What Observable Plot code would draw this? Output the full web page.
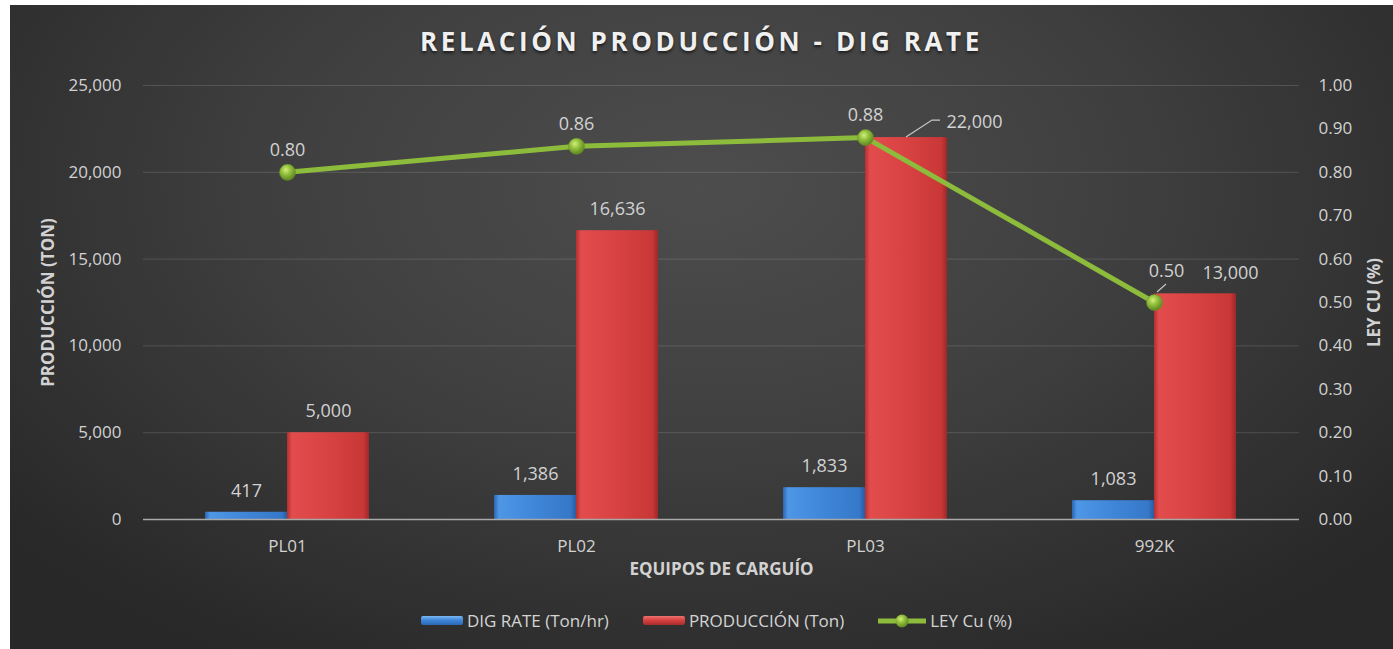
<!DOCTYPE html>
<html><head><meta charset="utf-8">
<script src="https://cdn.jsdelivr.net/npm/d3@7"></script>
<script src="https://cdn.jsdelivr.net/npm/@observablehq/plot@0.6"></script>
<style>
html,body{margin:0;padding:0;background:#fff;}
#chart{position:absolute;left:10px;top:5px;width:1383px;height:644px;overflow:hidden;
 background: radial-gradient(ellipse 65% 85% at 50% 28%, #4d4d4d 0%, #404040 45%, #282828 100%);
 font-family:"Open Sans",sans-serif;}
#title{position:absolute;left:0;top:18px;width:100%;text-align:center;font-weight:700;font-size:26px;letter-spacing:3.6px;color:#f0f0f0;line-height:36px;text-shadow:0 2px 3px rgba(0,0,0,.6);}
#plot{position:absolute;left:0;top:60px;}
#legend{position:absolute;left:30px;right:0;top:604px;display:flex;justify-content:center;align-items:center;gap:34px;color:#d4d4d4;font-size:17px;}
.item{display:flex;align-items:center;gap:4px;}
.sw{width:42px;height:9px;border-radius:2px;}
</style></head><body>
<div id="chart"><div id="title"></div><div id="plot"></div><div id="legend"></div></div>
<script>
// ---- data ----
const categories = ["PL01", "PL02", "PL03", "992K"];
const digRate = [417, 1386, 1833, 1083];
const produccion = [5000, 16636, 22000, 13000];
const leyCu = [0.80, 0.86, 0.88, 0.50];
const prodTicks = [0, 5000, 10000, 15000, 20000, 25000];
const leyTicks = [0.00, 0.10, 0.20, 0.30, 0.40, 0.50, 0.60, 0.70, 0.80, 0.90, 1.00];
const seriesNames = ["DIG RATE (Ton/hr)", "PRODUCCIÓN (Ton)", "LEY Cu (%)"];
const title = "RELACIÓN PRODUCCIÓN - DIG RATE";
const yLabel = "PRODUCCIÓN (TON)";
const y2Label = "LEY CU (%)";
const xLabel = "EQUIPOS DE CARGUÍO";

const Y_MAX = 25000, Y2_MAX = 1.0, K = Y_MAX / Y2_MAX;
const rows = categories.map((c, i) => ({cat: c, dig: digRate[i], prod: produccion[i], ley: leyCu[i]}));
const fmt = d3.format(",");
const TXT = "#d2d2d2";
const FONT = "Open Sans, sans-serif";
const TICK = 17, LBL = 18, AX = 17;

document.getElementById("title").textContent = title;

const plot = Plot.plot({
  width: 1383, height: 535,
  marginLeft: 133, marginRight: 94, marginTop: 20, marginBottom: 81,
  style: {background: "transparent", color: TXT, fontFamily: FONT, fontSize: "17px", overflow: "visible"},
  x: {type: "band", domain: categories, paddingInner: 0.716, paddingOuter: 0.358, axis: null},
  y: {domain: [0, Y_MAX], axis: null},
  marks: [
    Plot.ruleY(prodTicks.filter(d => d > 0), {stroke: "#ffffff", strokeOpacity: 0.14, strokeWidth: 1}),
    Plot.axisY(prodTicks, {anchor: "left", tickSize: 0, tickPadding: 22, tickFormat: fmt, label: null, fontSize: TICK, color: TXT}),
    Plot.axisY(leyTicks.map(t => t * K), {anchor: "right", tickSize: 0, tickPadding: 19, tickFormat: d => (d / K).toFixed(2), label: null, fontSize: TICK, color: TXT}),
    Plot.axisX({tickSize: 0, tickPadding: 20, label: null, fontSize: TICK, color: TXT}),
    Plot.barY(rows, {x: "cat", y: "dig", dx: -41, fill: "url(#gBlue)"}),
    Plot.barY(rows, {x: "cat", y: "prod", dx: 41, fill: "url(#gRed)"}),
    Plot.ruleY([0], {stroke: "#a9a9a9", strokeWidth: 1.5}),
    Plot.line(rows, {x: "cat", y: d => d.ley * K, stroke: "#8dbb3c", strokeWidth: 5}),
    Plot.dot(rows, {x: "cat", y: d => d.ley * K, r: 8, fill: "url(#gDot)", stroke: "#6c9628", strokeWidth: 0.6}),
    // data labels
    Plot.text(rows, {x: "cat", y: "dig", text: d => fmt(d.dig), dx: -41, dy: -21, fill: TXT, fontSize: LBL}),
    Plot.text(rows, {filter: d => d.cat === "PL01" || d.cat === "PL02", x: "cat", y: "prod", text: d => fmt(d.prod), dx: 41, dy: -21, fill: TXT, fontSize: LBL}),
    Plot.text(rows, {filter: d => d.cat === "992K", x: "cat", y: "prod", text: d => fmt(d.prod), dx: 76, dy: -21, fill: TXT, fontSize: LBL}),
    Plot.text(rows, {filter: d => d.cat === "PL03", x: "cat", y: "prod", text: d => fmt(d.prod), dx: 81, dy: -15, textAnchor: "start", fill: TXT, fontSize: LBL}),
    Plot.text(rows, {filter: d => d.cat !== "992K", x: "cat", y: d => d.ley * K, text: d => d.ley.toFixed(2), dy: -22, fill: TXT, fontSize: LBL}),
    Plot.text(rows, {filter: d => d.cat === "992K", x: "cat", y: d => d.ley * K, text: d => d.ley.toFixed(2), dx: 12, dy: -31, fill: TXT, fontSize: LBL}),
    // axis titles
    Plot.text([yLabel], {frameAnchor: "left", textAnchor: "middle", rotate: -90, dx: -95, fontWeight: 700, fontSize: AX, fill: TXT}),
    Plot.text([y2Label], {frameAnchor: "right", textAnchor: "middle", rotate: -90, dx: 75, fontWeight: 700, fontSize: AX, fill: TXT}),
    Plot.text([xLabel], {frameAnchor: "bottom", dy: 55, fontWeight: 700, fontSize: AX, fill: TXT})
  ]
});

// gradients
const svg = d3.select(plot);
const defs = svg.insert("defs", ":first-child");
function lin(id, stops) {
  const g = defs.append("linearGradient").attr("id", id).attr("x1", 0).attr("x2", 1).attr("y1", 0).attr("y2", 0);
  stops.forEach(([o, c]) => g.append("stop").attr("offset", o).attr("stop-color", c));
}
lin("gBlue", [[0, "#2c66b2"], [0.06, "#4e96e6"], [0.5, "#3f86d8"], [0.93, "#3678c8"], [1, "#285ca2"]]);
lin("gRed", [[0, "#b23030"], [0.06, "#e24c4c"], [0.5, "#d84242"], [0.93, "#c93737"], [1, "#9e2828"]]);
const rg = defs.append("radialGradient").attr("id", "gDot").attr("cx", "40%").attr("cy", "35%").attr("r", "65%");
[[0, "#d2ee7a"], [0.45, "#94c03e"], [1, "#5d8820"]].forEach(([o, c]) => rg.append("stop").attr("offset", o).attr("stop-color", c));

// leader lines (positions from the plot's own scales)
const sx = plot.scale("x"), sy = plot.scale("y");
const cx = c => sx.apply(c) + sx.bandwidth / 2;
const lead = svg.append("g").attr("fill", "none").attr("stroke", "#c8c8c8").attr("stroke-width", 1.2);
{
  const r = rows.find(d => d.cat === "PL03");
  const x0 = cx(r.cat) + 41, y0 = sy.apply(r.prod);
  lead.append("path").attr("d", `M${x0},${y0}L${x0 + 26},${y0 - 17}H${x0 + 34}`);
}
{
  const r = rows.find(d => d.cat === "992K");
  const x0 = cx(r.cat), y0 = sy.apply(r.ley * K);
  lead.append("path").attr("d", `M${x0 + 3},${y0 - 10}L${x0 + 12},${y0 - 18}`);
}
document.getElementById("plot").appendChild(plot);

// legend
const lg = document.getElementById("legend");
const swStyles = [
  "background:linear-gradient(#7ab8f4,#3f86d8 45%,#2c68b6);",
  "background:linear-gradient(#ee7070,#d84242 45%,#a82c2c);"
];
seriesNames.forEach((name, i) => {
  const it = document.createElement("div"); it.className = "item";
  if (i < 2) {
    const s = document.createElement("div"); s.className = "sw"; s.style.cssText = swStyles[i]; it.appendChild(s);
  } else {
    const s = document.createElementNS("http://www.w3.org/2000/svg", "svg");
    s.setAttribute("width", 48); s.setAttribute("height", 16);
    s.innerHTML = '<defs><radialGradient id="gDotL" cx="40%" cy="35%" r="65%"><stop offset="0" stop-color="#d2ee7a"/><stop offset="0.45" stop-color="#94c03e"/><stop offset="1" stop-color="#5d8820"/></radialGradient></defs><line x1="0" x2="48" y1="8" y2="8" stroke="#8dbb3c" stroke-width="5"/><circle cx="24" cy="8" r="6.5" fill="url(#gDotL)"/>';
    it.appendChild(s);
  }
  const t = document.createElement("span"); t.textContent = name; it.appendChild(t);
  lg.appendChild(it);
});
</script></body></html>
